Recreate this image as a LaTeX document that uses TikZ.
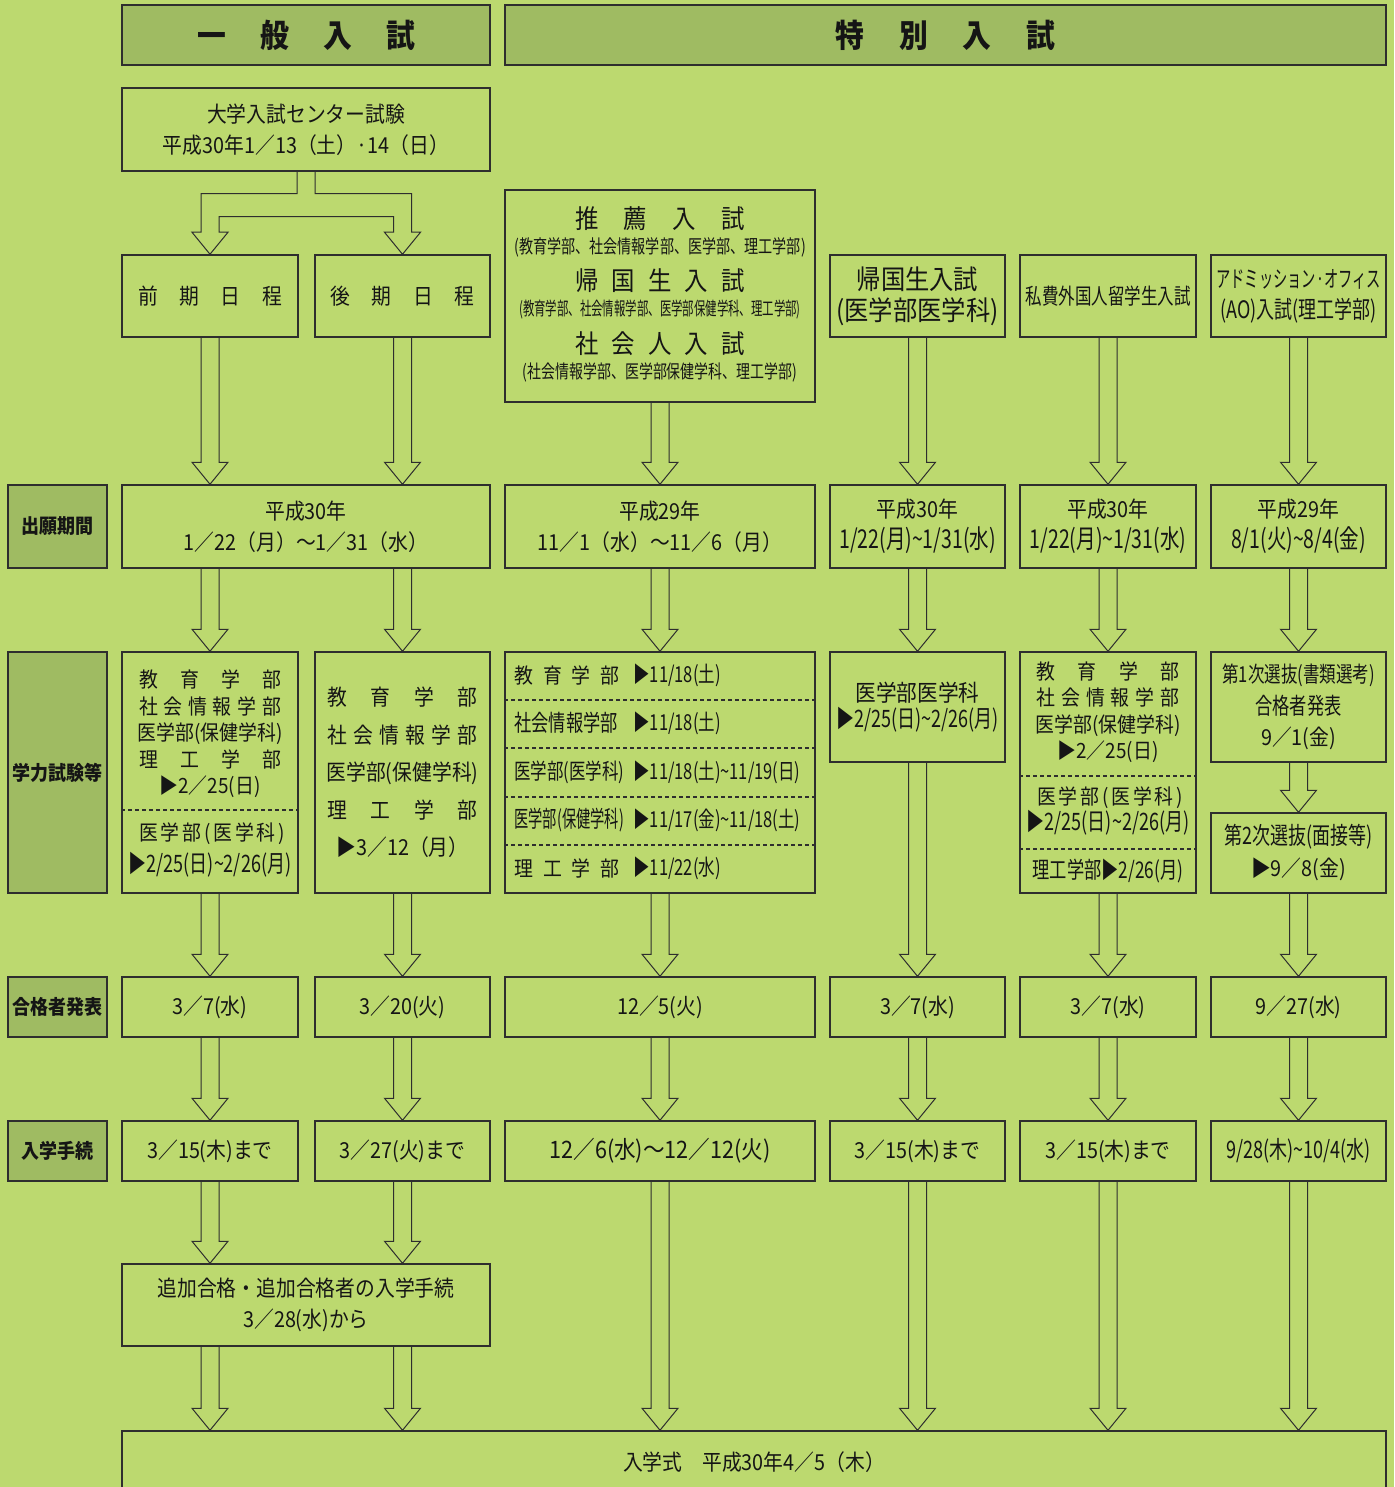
\documentclass[tikz,border=0pt]{standalone}
\usepackage{fontspec}
\setmainfont{Noto Sans CJK JP}[FakeStretch=0.9]
\newfontfamily\nar{Noto Sans CJK JP}[FakeStretch=0.75]
\newfontfamily\vnar{Noto Sans CJK JP}[FakeStretch=0.62]
\usetikzlibrary{calc}
\definecolor{bgcolor}{HTML}{BCD96F}
\definecolor{headcolor}{HTML}{9FBB62}
\definecolor{linecolor}{HTML}{2E2E2E}
\definecolor{textcolor}{HTML}{151515}

\newcommand{\spread}[2]{\makebox[#1][s]{#2}}
\newcommand{\nr}[1]{\nar\fontsize{#1}{#1}\selectfont}
\newcommand{\vn}[1]{\vnar\fontsize{#1}{#1}\selectfont}
\newcommand{\tild}{\textasciitilde}
% hollow arrow from #1 down to the tip #2
\newcommand{\harr}[2]{%
  \draw[harrow] let \p1=(#1), \p2=(#2) in
    (\x1-4.5pt,\y1) -- (\x1-4.5pt,\y2+11pt) -- (\x1-9pt,\y2+11pt) -- (\x1,\y2)
    -- (\x1+9pt,\y2+11pt) -- (\x1+4.5pt,\y2+11pt) -- (\x1+4.5pt,\y1);}

\begin{document}
\begin{tikzpicture}[x=0.5pt, y=-0.5pt,
    box/.style={draw=linecolor, line width=0.75pt, inner sep=0pt, align=center, text=textcolor, font=\fontsize{11}{15.5}\selectfont},
    head/.style={box, fill=headcolor, font=\bfseries\fontsize{16}{18}\selectfont},
    side/.style={box, fill=headcolor, minimum width=49.5pt, font=\bfseries\fontsize{10}{12}\selectfont},
    txt/.style={inner sep=0pt, align=center, text=textcolor, font=\fontsize{10.5}{13.25}\selectfont},
    harrow/.style={draw=linecolor, line width=0.5pt},
    sep/.style={draw=linecolor, line width=0.6pt, dash pattern=on 2pt off 1.5pt}]
        \useasboundingbox (0,0) rectangle (1394,1487);
        \fill[bgcolor] (0,0) rectangle (1394,1487);

        % Headers
        \node[head, minimum width=184pt, minimum height=30pt] (gen) at (306,35) {\spread{109pt}{一 般 入 試}};
        \node[head, minimum width=440.5pt, minimum height=30pt] (spe) at (945.5,35) {\spread{110pt}{特 別 入 試}};

        % Row labels
        \node[side, minimum height=41.5pt] (l1) at (57.5,526.5) {出願期間};
        \node[side, minimum height=120.5pt] (l2) at (57.5,772.5) {学力試験等};
        \node[side, minimum height=30pt] (l3) at (57.5,1007) {合格者発表};
        \node[side, minimum height=30pt] (l4) at (57.5,1151) {入学手続};

        % Kinds of entrance exam
        \node[box, minimum width=184pt, minimum height=41.5pt] (exam) at (306,129.5) {大学入試センター試験\\平成30年1／13（土）·14（日）};
        \node[box, minimum width=88pt, minimum height=41pt] (zen) at (210,296) {\spread{72pt}{前 期 日 程}};
        \node[box, minimum width=87.5pt, minimum height=41pt] (kou) at (402.5,296) {\spread{72pt}{後 期 日 程}};
        \node[box, minimum width=155pt, minimum height=106pt] (sui) at (660,296) {};
        \node[txt, font=\fontsize{13}{15}\selectfont] (s1) at (660,219) {\spread{85pt}{推 薦 入 試}};
        \node[txt] (s1b) at (660,247) {\nr{9.4}(教育学部、社会情報学部、医学部、理工学部)};
        \node[txt, font=\fontsize{13}{15}\selectfont] (s2) at (660,281) {\spread{85pt}{帰 国 生 入 試}};
        \node[txt] (s2b) at (660,310) {\vn{9.2}(教育学部、社会情報学部、医学部保健学科、理工学部)};
        \node[txt, font=\fontsize{13}{15}\selectfont] (s3) at (660,344) {\spread{85pt}{社 会 人 入 試}};
        \node[txt] (s3b) at (660,372) {\nr{9.3}(社会情報学部、医学部保健学科、理工学部)};
        \node[box, minimum width=87.5pt, minimum height=41pt, font=\fontsize{13.5}{15.5}\selectfont] (kik) at (917.5,296) {帰国生入試\\(医学部医学科)};
        \node[box, minimum width=88pt, minimum height=41pt] (shi) at (1108,296) {\nr{11}私費外国人留学生入試};
        \node[box, minimum width=87.5pt, minimum height=41pt] (ao) at (1298.5,296) {{\vn{11.5}アドミッション·オフィス}\\{\nr{12}(AO)入試(理工学部)}};

        % Application period
        \node[box, minimum width=184pt, minimum height=41.5pt] (ap1) at (306,526.5) {平成30年\\1／22（月）～1／31（水）};
        \node[box, minimum width=155pt, minimum height=41.5pt] (ap3) at (660,526.5) {平成29年\\11／1（水）～11／6（月）};
        \node[box, minimum width=87.5pt, minimum height=41.5pt] (ap4) at (917.5,526.5) {平成30年\\{\nr{13}1/22(月)\tild 1/31(水)}};
        \node[box, minimum width=88pt, minimum height=41.5pt] (ap5) at (1108,526.5) {平成30年\\{\nr{13}1/22(月)\tild 1/31(水)}};
        \node[box, minimum width=87.5pt, minimum height=41.5pt] (ap6) at (1298.5,526.5) {平成29年\\{\nr{13}8/1(火)\tild 8/4(金)}};

        % Exams
        \node[box, minimum width=88pt, minimum height=120.5pt] (gk1) at (210,772.5) {};
        \node[txt] (g1a) at (210,734) {\spread{71pt}{教 育 学 部}\\\spread{71pt}{社 会 情 報 学 部}\\医学部(保健学科)\\\spread{71pt}{理 工 学 部}\\▶2／25(日)};
        \draw[sep] (gk1.west |- 0,810) -- (gk1.east |- 0,810);
        \node[txt, font=\fontsize{10.5}{16}\selectfont] (g1b) at (210,850) {\spread{71pt}{医 学 部 ( 医 学 科 )}\\{\nr{12}▶2/25(日)\tild 2/26(月)}};

        \node[box, minimum width=87.5pt, minimum height=120.5pt, font=\fontsize{11}{18.75}\selectfont] (gk2) at (402.5,772.5) {\spread{75pt}{教 育 学 部}\\\spread{75pt}{社 会 情 報 学 部}\\医学部(保健学科)\\\spread{75pt}{理 工 学 部}\\▶3／12（月）};

        \node[box, minimum width=155pt, minimum height=120.5pt] (gk3) at (660,772.5) {};
        \foreach \yy in {700,748,797,845}
            \draw[sep] (gk3.west |- 0,\yy) -- (gk3.east |- 0,\yy);
        \node[txt, anchor=west] (r1) at (514,675) {\spread{52.5pt}{教 育 学 部}};
        \node[txt, anchor=west] (d1) at (633,675) {\nr{11}▶11/18(土)};
        \node[txt, anchor=west] (r2) at (514,723) {\nr{11.5}社会情報学部};
        \node[txt, anchor=west] (d2) at (633,723) {\nr{11}▶11/18(土)};
        \node[txt, anchor=west] (r3) at (514,772) {\nr{11}医学部(医学科)};
        \node[txt, anchor=west] (d3) at (633,772) {\nr{11}▶11/18(土)\tild 11/19(日)};
        \node[txt, anchor=west] (r4) at (514,820) {\vn{11.5}医学部(保健学科)};
        \node[txt, anchor=west] (d4) at (633,820) {\nr{11}▶11/17(金)\tild 11/18(土)};
        \node[txt, anchor=west] (r5) at (514,868) {\spread{52.5pt}{理 工 学 部}};
        \node[txt, anchor=west] (d5) at (633,868) {\nr{11}▶11/22(水)};

        \node[box, minimum width=87.5pt, minimum height=55pt, font=\fontsize{11.5}{13}\selectfont] (gk4) at (917.5,707) {医学部医学科\\{\nr{12}▶2/25(日)\tild 2/26(月)}};

        \node[box, minimum width=88pt, minimum height=120.5pt] (gk5) at (1108,772.5) {};
        \node[txt] (g5a) at (1108,712) {\spread{71.5pt}{教 育 学 部}\\\spread{71.5pt}{社 会 情 報 学 部}\\医学部(保健学科)\\▶2／25(日)};
        \draw[sep] (gk5.west |- 0,776) -- (gk5.east |- 0,776);
        \node[txt] (g5b) at (1108,811) {\spread{71pt}{医 学 部 ( 医 学 科 )}\\{\nr{12}▶2/25(日)\tild 2/26(月)}};
        \draw[sep] (gk5.west |- 0,849) -- (gk5.east |- 0,849);
        \node[txt] (g5c) at (1108,871) {\nr{11.5}理工学部▶2/26(月)};

        \node[box, minimum width=87.5pt, minimum height=55pt, font=\fontsize{11}{15.75}\selectfont] (gk6a) at (1298.5,707) {{\nr{11}第1次選抜(書類選考)}\\{\nr{11.5}合格者発表}\\9／1(金)};
        \node[box, minimum width=87.5pt, minimum height=40pt, font=\fontsize{11}{16}\selectfont] (gk6b) at (1298.5,853) {{\nr{12}第2次選抜(面接等)}\\▶9／8(金)};

        % Announcement of results
        \node[box, minimum width=88pt, minimum height=30pt] (gp1) at (210,1007) {3／7(水)};
        \node[box, minimum width=87.5pt, minimum height=30pt] (gp2) at (402.5,1007) {3／20(火)};
        \node[box, minimum width=155pt, minimum height=30pt] (gp3) at (660,1007) {12／5(火)};
        \node[box, minimum width=87.5pt, minimum height=30pt] (gp4) at (917.5,1007) {3／7(水)};
        \node[box, minimum width=88pt, minimum height=30pt] (gp5) at (1108,1007) {3／7(水)};
        \node[box, minimum width=87.5pt, minimum height=30pt] (gp6) at (1298.5,1007) {9／27(水)};

        % Enrolment procedure
        \node[box, minimum width=88pt, minimum height=30pt] (nt1) at (210,1151) {3／15(木)まで};
        \node[box, minimum width=87.5pt, minimum height=30pt] (nt2) at (402.5,1151) {3／27(火)まで};
        \node[box, minimum width=155pt, minimum height=30pt, font=\fontsize{12}{15}\selectfont] (nt3) at (660,1151) {12／6(水)～12／12(火)};
        \node[box, minimum width=87.5pt, minimum height=30pt] (nt4) at (917.5,1151) {3／15(木)まで};
        \node[box, minimum width=88pt, minimum height=30pt] (nt5) at (1108,1151) {3／15(木)まで};
        \node[box, minimum width=87.5pt, minimum height=30pt] (nt6) at (1298.5,1151) {\nr{12}9/28(木)\tild 10/4(水)};

        \node[box, minimum width=184pt, minimum height=41pt] (add) at (306,1305) {追加合格・追加合格者の入学手続\\3／28(水)から};
        \node[box, minimum width=632pt, minimum height=31pt] (ent) at (754,1462) {入学式　平成30年4／5（木）};

        % Split arrow below the centre exam
        \draw[harrow] let \p1=(exam.south), \p2=(zen.north), \p3=(kou.north) in
            (\x1-4.5pt,\y1) -- (\x1-4.5pt,\y1-11pt) -- (\x2-4.5pt,\y1-11pt) -- (\x2-4.5pt,\y2+11pt)
            -- (\x2-9pt,\y2+11pt) -- (\x2,\y2) -- (\x2+9pt,\y2+11pt) -- (\x2+4.5pt,\y2+11pt)
            -- (\x2+4.5pt,\y1-22.5pt) -- (\x3-4.5pt,\y1-22.5pt) -- (\x3-4.5pt,\y3+11pt)
            -- (\x3-9pt,\y3+11pt) -- (\x3,\y3) -- (\x3+9pt,\y3+11pt) -- (\x3+4.5pt,\y3+11pt)
            -- (\x3+4.5pt,\y1-11pt) -- (\x1+4.5pt,\y1-11pt) -- (\x1+4.5pt,\y1);

        % Arrows
        \harr{zen.south}{ap1.north -| zen.south}
        \harr{kou.south}{ap1.north -| kou.south}
        \harr{sui.south}{ap3.north}
        \harr{kik.south}{ap4.north}
        \harr{shi.south}{ap5.north}
        \harr{ao.south}{ap6.north}
        \harr{ap1.south -| gk1.north}{gk1.north}
        \harr{ap1.south -| gk2.north}{gk2.north}
        \harr{ap3.south}{gk3.north}
        \harr{ap4.south}{gk4.north}
        \harr{ap5.south}{gk5.north}
        \harr{ap6.south}{gk6a.north}
        \harr{gk6a.south}{gk6b.north}
        \foreach \a/\b in {gk1/gp1,gk2/gp2,gk3/gp3,gk4/gp4,gk5/gp5,gk6b/gp6}
            \harr{\a.south}{\b.north};
        \foreach \i in {1,...,6}
            \harr{gp\i.south}{nt\i.north};
        \harr{nt1.south}{add.north -| nt1.south}
        \harr{nt2.south}{add.north -| nt2.south}
        \harr{add.south -| nt1.south}{ent.north -| nt1.south}
        \harr{add.south -| nt2.south}{ent.north -| nt2.south}
        \foreach \i in {3,...,6}
            \harr{nt\i.south}{ent.north -| nt\i.south};
\end{tikzpicture}
\end{document}
